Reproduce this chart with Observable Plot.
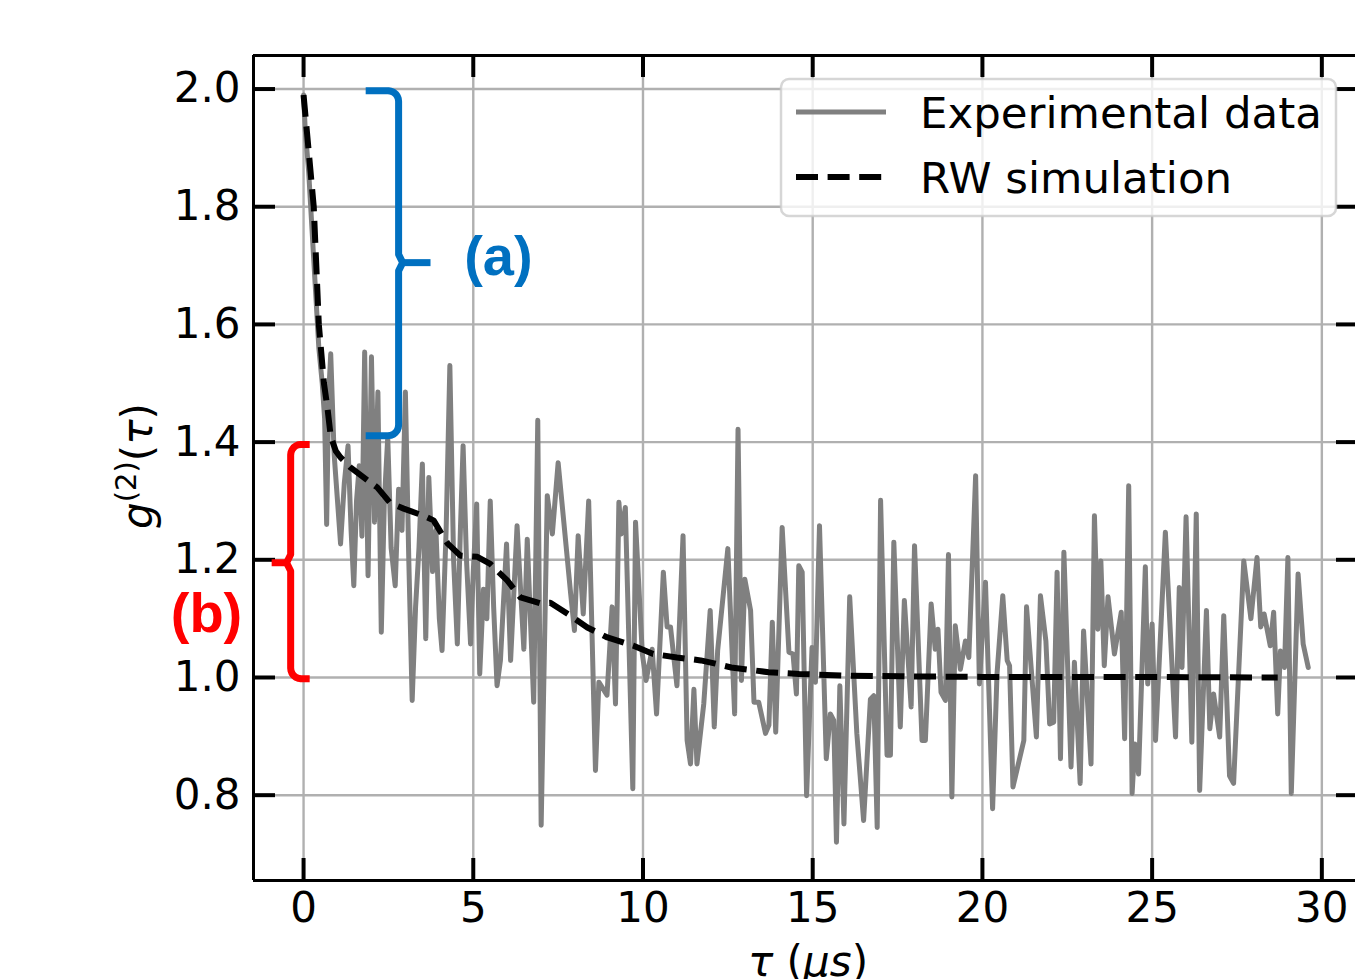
<!DOCTYPE html>
<html>
<head>
<meta charset="utf-8">
<script src="https://cdn.jsdelivr.net/npm/d3@7"></script>
<script src="https://cdn.jsdelivr.net/npm/@observablehq/plot@0.6"></script>
<style>
html,body{margin:0;padding:0;background:#fff;overflow:hidden;}
#chart svg{display:block;}
</style>
</head>
<body>
<div id="chart"></div>
<script>
// ---------- data ----------
const tauExp = [0.00,0.05,0.15,0.25,0.35,0.45,0.55,0.62,0.68,0.74,0.80,0.90,1.00,1.09,1.20,1.31,1.40,1.48,1.56,1.64,1.72,1.80,1.90,2.00,2.09,2.19,2.29,2.38,2.48,2.58,2.70,2.80,2.90,3.00,3.10,3.20,3.30,3.40,3.50,3.60,3.69,3.80,3.90,4.00,4.08,4.20,4.31,4.42,4.53,4.62,4.70,4.80,4.92,5.00,5.10,5.19,5.30,5.40,5.50,5.60,5.70,5.80,5.98,6.10,6.29,6.49,6.59,6.78,6.90,7.00,7.18,7.33,7.50,7.87,7.98,8.09,8.24,8.40,8.60,8.70,8.94,9.09,9.19,9.29,9.36,9.48,9.70,9.78,9.98,10.09,10.27,10.40,10.60,10.71,10.81,11.00,11.18,11.30,11.40,11.50,11.59,11.79,11.98,12.10,12.20,12.50,12.70,12.80,12.90,13.00,13.17,13.27,13.41,13.61,13.71,13.81,13.91,14.10,14.30,14.42,14.52,14.59,14.69,14.82,14.98,15.08,15.20,15.40,15.52,15.62,15.70,15.80,15.92,16.09,16.30,16.50,16.70,16.80,16.90,17.00,17.19,17.29,17.39,17.58,17.70,17.90,18.00,18.22,18.32,18.49,18.61,18.69,18.78,18.91,19.00,19.10,19.20,19.35,19.50,19.60,19.80,19.91,20.09,20.30,20.43,20.60,20.73,20.80,20.90,21.22,21.30,21.59,21.71,21.87,21.98,22.10,22.20,22.30,22.40,22.61,22.71,22.88,22.98,23.20,23.30,23.40,23.49,23.59,23.70,23.89,24.09,24.19,24.31,24.41,24.49,24.60,24.80,24.87,25.00,25.10,25.39,25.69,25.80,25.88,26.00,26.17,26.30,26.40,26.60,26.70,26.81,26.99,27.11,27.28,27.40,27.70,27.91,28.09,28.20,28.30,28.48,28.58,28.70,28.78,28.90,29.00,29.10,29.30,29.45,29.60];
const g2Exp = [1.99,1.93,1.86,1.76,1.66,1.56,1.50,1.44,1.26,1.48,1.55,1.38,1.30,1.227,1.33,1.394,1.25,1.156,1.30,1.36,1.24,1.553,1.173,1.545,1.264,1.485,1.077,1.30,1.408,1.22,1.156,1.32,1.25,1.485,1.20,0.961,1.12,1.22,1.363,1.066,1.340,1.18,1.25,1.10,1.046,1.25,1.530,1.20,1.057,1.25,1.394,1.20,1.057,1.18,1.295,1.006,1.15,1.10,1.300,1.12,0.986,1.029,1.227,1.029,1.258,1.048,1.235,0.958,1.437,0.749,1.309,1.244,1.365,1.142,1.080,1.241,1.108,1.300,0.842,0.992,0.970,1.120,0.955,1.298,1.244,1.289,0.811,1.264,1.040,0.995,1.048,0.938,1.179,1.086,1.086,0.986,1.241,0.893,0.853,0.980,0.853,0.955,1.114,0.916,1.046,1.219,0.938,1.422,0.995,1.167,1.114,0.958,0.958,0.905,0.919,1.094,0.907,1.255,1.043,1.040,0.972,1.190,1.179,0.799,1.051,0.992,1.258,0.862,0.938,0.927,0.720,0.986,0.751,1.137,0.905,0.757,0.963,0.969,0.745,1.301,0.868,0.868,1.230,0.916,1.131,0.950,1.224,0.893,0.893,1.125,1.048,1.082,0.975,0.961,1.209,0.797,1.088,1.014,1.062,1.034,1.343,0.989,1.162,0.777,1.006,1.139,1.029,1.020,0.814,0.893,1.120,0.899,1.139,1.062,0.921,0.924,1.179,0.862,1.213,0.848,1.026,0.820,1.079,0.853,1.275,1.082,1.198,1.020,1.137,1.040,1.111,0.896,1.326,0.803,0.887,0.836,1.188,0.989,1.091,0.893,1.247,0.899,1.153,1.017,1.273,0.890,1.278,0.808,1.114,0.913,0.972,0.899,1.105,0.833,0.820,1.198,1.100,1.204,1.086,1.108,1.054,1.111,0.938,1.045,1.017,1.204,0.803,1.176,1.057,1.017];

const tauSim = [0,0.15,0.30,0.45,0.60,0.70,0.80,0.95,1.09,1.38,1.77,2.17,2.56,2.95,3.53,3.83,4.24,4.62,5.12,5.50,6.00,6.39,6.98,7.27,7.86,8.36,8.95,9.72,10.3,11.0,11.7,12.1,12.6,13.7,14.6,16.1,17.6,20.0,24.0,28.7];
const g2Sim = [1.99,1.895,1.80,1.60,1.50,1.46,1.41,1.385,1.374,1.357,1.34,1.323,1.296,1.287,1.275,1.267,1.228,1.207,1.205,1.193,1.165,1.136,1.126,1.127,1.105,1.085,1.068,1.054,1.040,1.034,1.029,1.024,1.017,1.009,1.006,1.003,1.002,1.001,1.001,1.000];

const xTicks = [0,5,10,15,20,25,30];
const yTicks = [0.8,1.0,1.2,1.4,1.6,1.8,2.0];
const yTickLabels = ["0.8","1.0","1.2","1.4","1.6","1.8","2.0"];
const seriesNames = ["Experimental data","RW simulation"];
const annotationLabels = ["(a)","(b)"];
const annotationColors = ["#0070C0","#FF0000"];
// brace extents in data units: [yTop, yBottom, yMid], ends / spine / tip x, label x,y
const braceY = [[1.997,1.411,1.705],[1.396,0.998,1.195]];
const braceX = [[1.83,2.80,3.74],[0.18,-0.38,-0.94]];
const labelPos = [[5.74,1.714],[-2.86,1.108]];

// ---------- layout ----------
const W = 1355, H = 979;
const mL = 253, mT = 55, mB = 99, mR = 0;
const xDomain = [-1.475, 31.08];
const yDomain = [0.655, 2.057];
const frameW = W - mL - mR, frameH = H - mT - mB;
const tickLen = 22;

const expData = tauExp.map((t,i)=>({tau:t, g:g2Exp[i]}));
const simData = tauSim.map((t,i)=>({tau:t, g:g2Sim[i]}));

// brace path (annotation shape) from its extents
function bracePoints(k){
  const [yT,yB,yM] = braceY[k];
  const [xE,xS,xT] = braceX[k];
  const dir = Math.sign(xT - xS);
  const rx = 0.30*dir, ry = 0.018, bump = 0.12*dir, ry2 = 0.014;
  const pts = [];
  const n = 6;
  pts.push([xE,yT]);
  for(let i=0;i<=n;i++){const a=Math.PI/2*i/n; pts.push([xS - rx + rx*Math.sin(a), yT - ry + ry*Math.cos(a)]);}
  pts.push([xS, yM + ry2]);
  pts.push([xS + bump, yM]);
  pts.push([xS, yM - ry2]);
  for(let i=0;i<=n;i++){const a=Math.PI/2*i/n; pts.push([xS - rx + rx*Math.cos(a), yB + ry - ry*Math.sin(a)]);}
  pts.push([xE,yB]);
  return {spine: pts.map(p=>({x:p[0],y:p[1],k})), tip:[{x:xS+bump,y:yM,k},{x:xT,y:yM,k}]};
}
const braces = [0,1].map(bracePoints);

const gridColor = "#b0b0b0";

const marks = [
  // grid
  Plot.ruleX(xTicks, {x: d=>d, stroke: gridColor, strokeWidth: 2.4}),
  Plot.ruleY(yTicks, {y: d=>d, stroke: gridColor, strokeWidth: 2.4}),
  // data
  Plot.line(expData, {x:"tau", y:"g", stroke:"#808080", strokeWidth:5, strokeLinejoin:"round"}),
  Plot.line(simData, {x:"tau", y:"g", stroke:"#000", strokeWidth:6, strokeDasharray:"22,9.6", strokeLinecap:"butt"}),
  // frame
  Plot.ruleX([xDomain[0]], {x: d=>d, stroke:"#000", strokeWidth:3}),
  Plot.ruleY([yDomain[0], yDomain[1]], {y: d=>d, stroke:"#000", strokeWidth:3}),
  // inward ticks
  Plot.tickX(xTicks, {x: d=>d, stroke:"#000", strokeWidth:4, insetTop: frameH - tickLen}),
  Plot.tickX(xTicks, {x: d=>d, stroke:"#000", strokeWidth:4, insetBottom: frameH - tickLen}),
  Plot.tickY(yTicks, {y: d=>d, stroke:"#000", strokeWidth:4, insetRight: frameW - tickLen}),
  Plot.tickY(yTicks, {y: d=>d, stroke:"#000", strokeWidth:4, insetLeft: frameW - 19}),
  // tick labels
  Plot.text(xTicks, {x: d=>d, frameAnchor:"bottom", lineAnchor:"top", dy: 12, text: d=>String(d), fontSize: 42, fill:"#000"}),
  Plot.text(yTicks, {y: d=>d, frameAnchor:"left", textAnchor:"end", dx: -13, text: (d,i)=>yTickLabels[i], fontSize: 42, fill:"#000"}),
];
// braces + labels
braces.forEach((b,k)=>{
  marks.push(Plot.line(b.spine, {x:"x", y:"y", stroke: annotationColors[k], strokeWidth:7, strokeLinejoin:"round", strokeLinecap:"butt"}));
  marks.push(Plot.line(b.tip, {x:"x", y:"y", stroke: annotationColors[k], strokeWidth:7, strokeLinecap:"butt"}));
  marks.push(Plot.text([annotationLabels[k]], {x: labelPos[k][0], y: labelPos[k][1], text: d=>d, fill: annotationColors[k], fontSize: 56, fontWeight:"bold", fontFamily:"Liberation Sans, Arial, sans-serif"}));
});

const chart = Plot.plot({
  width: W, height: H,
  marginLeft: mL, marginTop: mT, marginBottom: mB, marginRight: mR,
  style: {fontFamily: "DejaVu Sans, sans-serif", background: "#fff"},
  x: {domain: xDomain, range: [mL, 1358], axis: null},
  y: {domain: yDomain, range: [H - mB, mT], axis: null},
  marks
});
document.getElementById("chart").appendChild(chart);

// ---------- legend & axis labels ----------
const svg = d3.select(chart);
const lg = svg.append("g").attr("font-family","DejaVu Sans, sans-serif").attr("font-size", 43.5).attr("text-anchor","start");
lg.append("rect").attr("x",781).attr("y",79).attr("width",555).attr("height",137).attr("rx",8)
  .attr("fill","rgba(255,255,255,0.8)").attr("stroke","rgba(204,204,204,0.8)").attr("stroke-width",2.5);
const legendStyles = [{stroke:"#808080", w:5, dash:"none"},{stroke:"#000", w:6, dash:"22,9.6"}];
seriesNames.forEach((name,i)=>{
  const yy = 112 + i*65;
  lg.append("line").attr("x1",796).attr("x2",886).attr("y1",yy).attr("y2",yy)
    .attr("stroke",legendStyles[i].stroke).attr("stroke-width",legendStyles[i].w)
    .attr("stroke-dasharray",legendStyles[i].dash);
  lg.append("text").attr("x",920).attr("y",yy).attr("dy","0.36em").attr("text-anchor","start").attr("fill","#000").text(name);
});

// x label: τ (μs)
const xl = svg.append("text").attr("x",808).attr("y",976).attr("text-anchor","middle")
  .attr("font-family","DejaVu Sans, sans-serif").attr("font-size",42).attr("fill","#000");
xl.append("tspan").attr("font-style","italic").text("τ");
xl.append("tspan").text("\u00a0(");
xl.append("tspan").attr("font-style","italic").text("μs");
xl.append("tspan").text(")");

// y label: g^(2)(τ)
const yl = svg.append("text").attr("transform","translate(152,466) rotate(-90)").attr("text-anchor","middle")
  .attr("font-family","DejaVu Sans, sans-serif").attr("font-size",42).attr("fill","#000");
yl.append("tspan").attr("font-style","italic").text("g");
yl.append("tspan").attr("font-size",29).attr("dy",-16).text("(2)");
yl.append("tspan").attr("dy",16).text("(");
yl.append("tspan").attr("font-style","italic").text("τ");
yl.append("tspan").text(")");
</script>
</body>
</html>
